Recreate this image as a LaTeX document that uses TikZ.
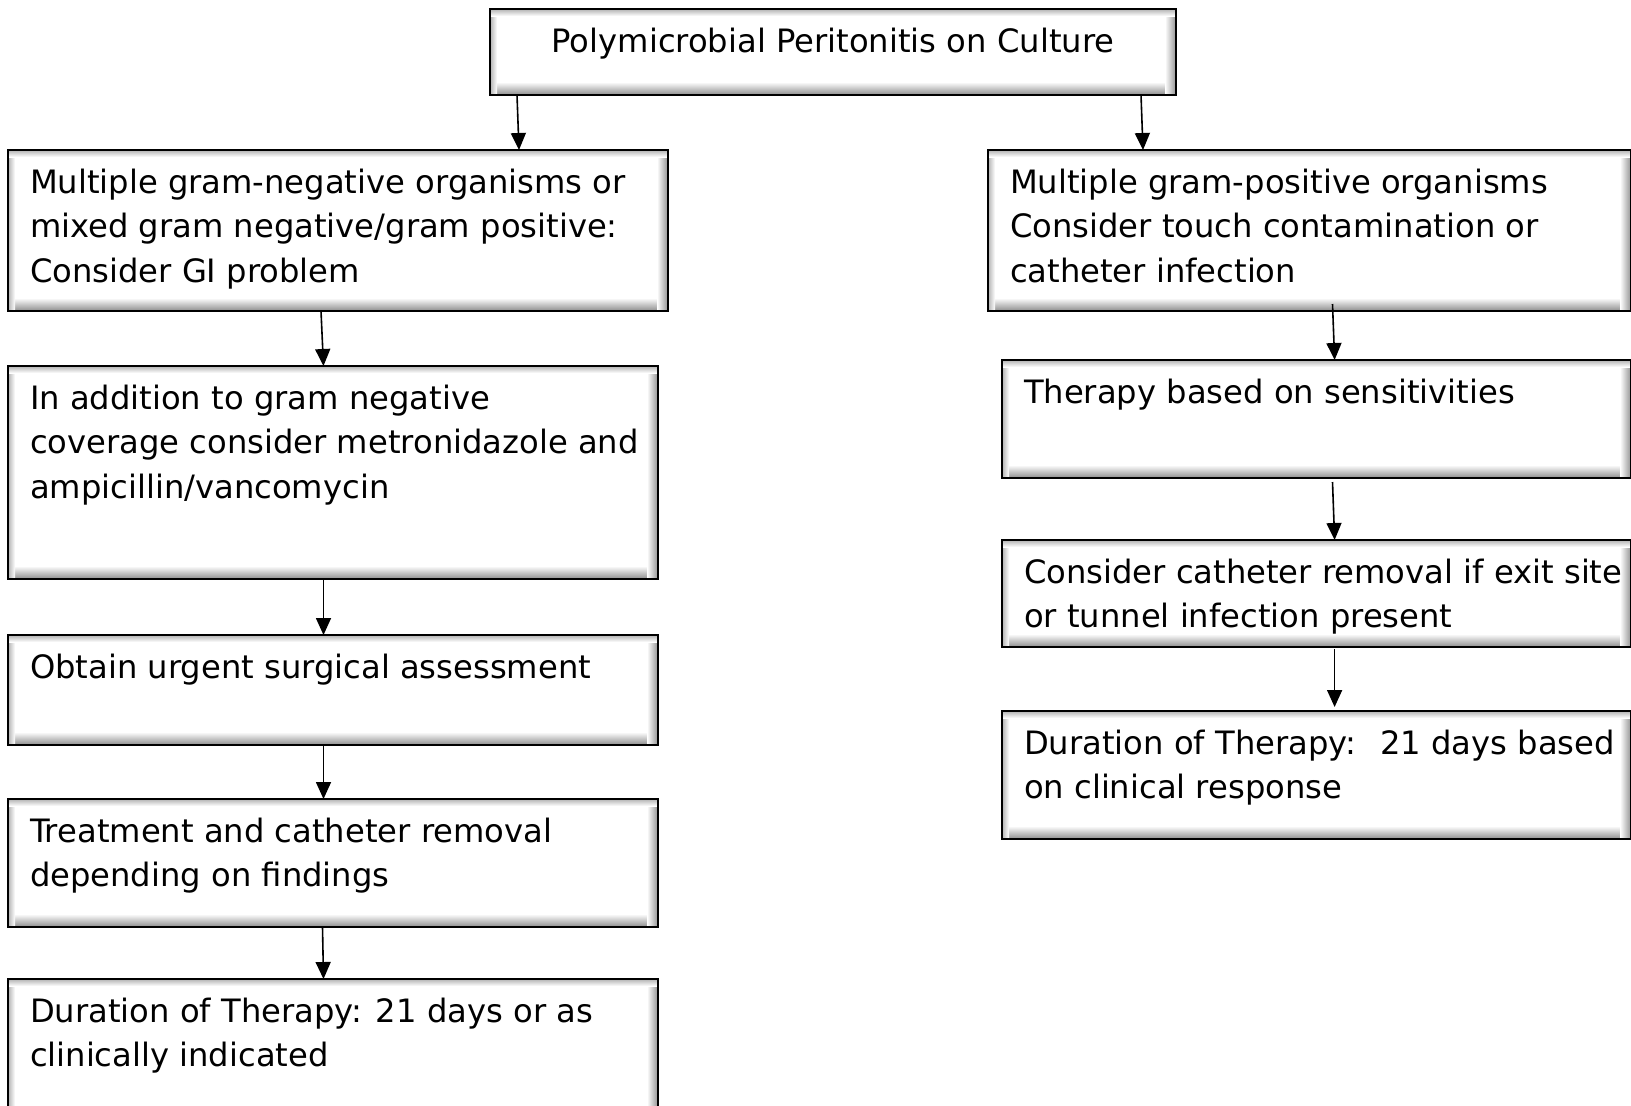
\documentclass[tikz,border=0pt]{standalone}
\usepackage{fontspec}
\setmainfont{DejaVu Sans}
\usepackage{tikz}
\usetikzlibrary{calc, arrows.meta}
\tikzstyle{arrow}    = [line width=0.8pt,-{Triangle[length=8.5pt,width=7.5pt]}]
\newcommand{\cell}[3]{\parbox[c][#2pt][t]{#1pt}{\raggedright\rule{0pt}{21.5pt}#3}}
\newcommand{\ccell}[3]{\parbox[c][#2pt][t]{#1pt}{\centering\rule{0pt}{21.5pt}#3}}
\hfuzz=20pt

\begin{document}
\begin{tikzpicture}[
    flowbox/.style={draw=black, line width=1.3pt, fill=white, anchor=north west,
      inner xsep=11pt, inner ysep=0pt, outer sep=0pt,
      font=\fontsize{16.1}{22.35}\selectfont,
      path picture={
        \coordinate (bbsw) at (path picture bounding box.south west);
        \coordinate (bbne) at (path picture bounding box.north east);
        \shade[top color=white,bottom color=gray!90] (bbsw) rectangle ($(bbsw -| bbne)+(0,6.5pt)$);
        \shade[left color=white,right color=gray!85] ($(bbne)+(-5.5pt,0)$) rectangle (bbsw -| bbne);
        \shade[left color=gray!60,right color=white] (bbsw) rectangle ($(bbsw |- bbne)+(3.5pt,0)$);
        \shade[top color=gray!60,bottom color=white] (bbne) rectangle ($(bbsw |- bbne)+(0,-3.5pt)$);
      }},
  ]
  \useasboundingbox (0,0) rectangle (815.5pt,-552.5pt);

  % top
  \node[flowbox] (top) at (245pt,-4.5pt) {\ccell{321}{43}{Polymicrobial Peritonitis on Culture}};

  % left branch
  \node[flowbox] (gneg) at (4pt,-75pt) {\cell{308}{80.5}{Multiple gram-negative organisms or\\mixed gram negative/gram positive:\\Consider GI problem}};
  \node[flowbox] (cover) at (4pt,-183pt) {\cell{303}{106.5}{In addition to gram negative\\\mbox{coverage consider metronidazole and}\\ampicillin/vancomycin}};
  \node[flowbox] (surg) at (4pt,-317.5pt) {\cell{303}{55}{Obtain urgent surgical assessment}};
  \node[flowbox] (treat) at (4pt,-399.5pt) {\cell{303}{64}{Treatment and catheter removal\\depending on findings}};
  \node[flowbox] (durl) at (4pt,-489.5pt) {\cell{303}{80}{Duration of Therapy: 21 days or as\\clinically indicated}};

  % right branch
  \node[flowbox] (gpos) at (494pt,-75pt) {\cell{299.5}{80.5}{Multiple gram-positive organisms\\Consider touch contamination or\\catheter infection}};
  \node[flowbox] (sens) at (501pt,-180pt) {\cell{292.5}{59}{Therapy based on sensitivities}};
  \node[flowbox] (remove) at (501pt,-270pt) {\cell{292.5}{53.5}{\mbox{Consider catheter removal if exit site}\\or tunnel infection present}};
  \node[flowbox] (durr) at (501pt,-355.5pt) {\cell{292.5}{64}{\mbox{Duration of Therapy:~ 21 days based}\\on clinical response}};

  % arrows
  \draw[arrow] ([xshift=13.5pt]top.south west) -- ([xshift=255.5pt]gneg.north west);
  \draw[arrow] ([xshift=325.5pt]top.south west) -- ([xshift=77.5pt]gpos.north west);
  \draw[arrow] ([xshift=156.5pt]gneg.south west) -- ([xshift=157.75pt]cover.north west);
  \draw[arrow] ([xshift=157.75pt]cover.south west) -- ([xshift=157.75pt]surg.north west);
  \draw[arrow] ([xshift=157.75pt]surg.south west) -- ([xshift=157.75pt]treat.north west);
  \draw[arrow] ([xshift=157.25pt]treat.south west) -- ([xshift=157.75pt]durl.north west);
  \draw[arrow] ([xshift=172.25pt,yshift=3.5pt]gpos.south west) -- ([xshift=166.3pt]sens.north west);
  \draw[arrow] ([xshift=165.25pt,yshift=-2pt]sens.south west) -- ([xshift=166.3pt]remove.north west);
  \draw[arrow] ([xshift=166.3pt,yshift=-1pt]remove.south west) -- ([xshift=166.3pt,yshift=2pt]durr.north west);
\end{tikzpicture}
\end{document}
